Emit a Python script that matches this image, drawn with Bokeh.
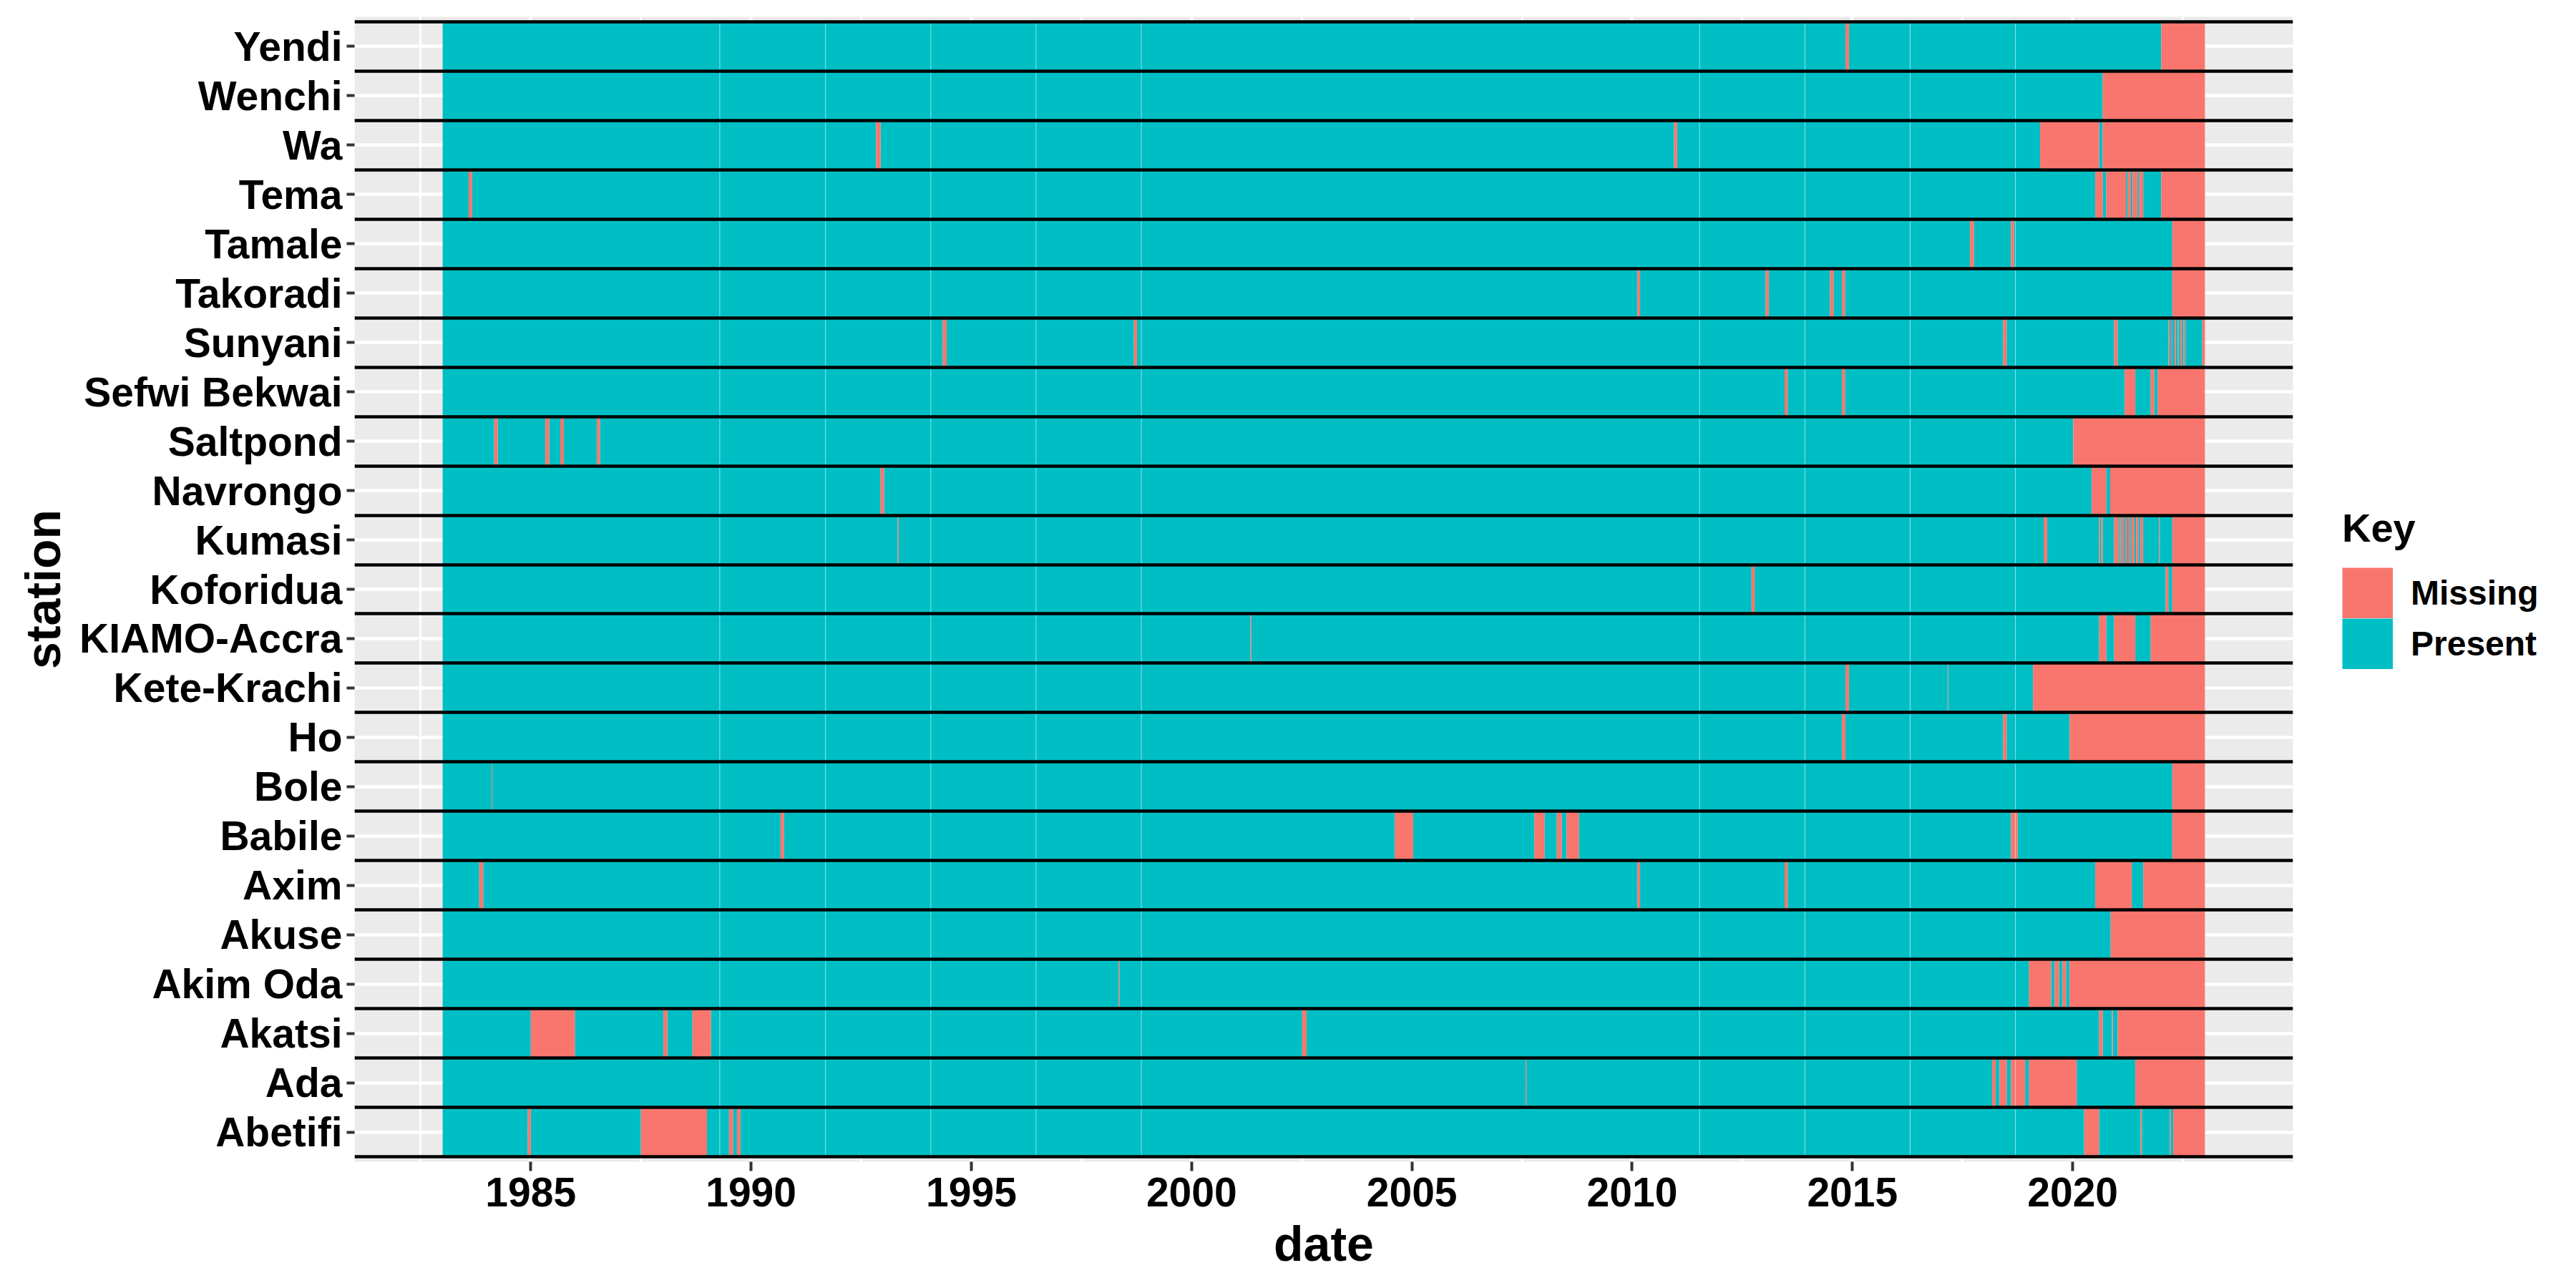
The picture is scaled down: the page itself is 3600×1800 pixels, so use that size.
from bokeh.plotting import figure
from bokeh.models import Range1d, FixedTicker, Legend, LegendItem, ColumnDataSource
from bokeh.embed import file_html
from bokeh.resources import INLINE

# ---------------- data ----------------
stations = ["Abetifi", "Ada", "Akatsi", "Akim Oda", "Akuse", "Axim", "Babile", "Bole",
            "Ho", "Kete-Krachi", "KIAMO-Accra", "Koforidua", "Kumasi", "Navrongo",
            "Saltpond", "Sefwi Bekwai", "Sunyani", "Takoradi", "Tamale", "Tema",
            "Wa", "Wenchi", "Yendi"]

record_start = 1983.0
record_end = 2023.0

# missing-data periods (decimal years) per station
abetifi_missing = [(1984.93, 1985.0), (1987.50, 1989.0), (1989.50, 1989.59), (1989.68, 1989.76),
                   (2020.26, 2020.60), (2021.54, 2021.57), (2022.20, 2022.22), (2022.28, 2023.0)]
ada_missing = [(2007.58, 2007.60), (2018.17, 2018.25), (2018.34, 2018.50), (2018.60, 2018.92),
               (2019.01, 2020.09), (2021.42, 2023.0)]
akatsi_missing = [(1985.0, 1986.0), (1988.01, 1988.10), (1988.67, 1989.09), (2002.51, 2002.61),
                  (2020.60, 2020.68), (2020.89, 2020.91), (2021.02, 2023.0)]
akim_oda_missing = [(1998.34, 1998.36), (2019.01, 2019.51), (2019.59, 2019.69),
                    (2019.77, 2019.85), (2019.93, 2023.0)]
akuse_missing = [(2020.86, 2023.0)]
axim_missing = [(1983.83, 1983.92), (2010.12, 2010.18), (2013.46, 2013.53),
                (2020.51, 2021.34), (2021.60, 2023.0)]
babile_missing = [(1990.67, 1990.75), (2004.61, 2005.03), (2007.78, 2008.01), (2008.29, 2008.40),
                  (2008.51, 2008.79), (2018.60, 2018.75), (2022.26, 2023.0)]
bole_missing = [(1984.11, 1984.125), (2022.26, 2023.0)]
ho_missing = [(2014.76, 2014.84), (2018.42, 2018.50), (2019.93, 2023.0)]
kete_krachi_missing = [(2014.84, 2014.92), (2017.16, 2017.17), (2019.10, 2023.0)]
kiamo_accra_missing = [(2001.33, 2001.35), (2020.60, 2020.76), (2020.94, 2021.42), (2021.77, 2023.0)]
koforidua_missing = [(2012.71, 2012.78), (2022.11, 2022.17), (2022.26, 2023.0)]
kumasi_missing = [(1993.33, 1993.35), (2019.34, 2019.42), (2020.60, 2020.62), (2020.65, 2020.68),
                  (2020.94, 2021.04), (2021.07, 2021.10), (2021.13, 2021.16), (2021.19, 2021.24),
                  (2021.27, 2021.31), (2021.34, 2021.40), (2021.44, 2021.49), (2021.54, 2021.60),
                  (2021.96, 2021.975), (2022.26, 2023.0)]
navrongo_missing = [(1992.94, 1993.02), (2020.43, 2020.76), (2020.85, 2023.0)]
saltpond_missing = [(1984.17, 1984.25), (1985.33, 1985.42), (1985.67, 1985.75),
                    (1986.50, 1986.57), (2020.01, 2023.0)]
sefwi_bekwai_missing = [(2013.46, 2013.53), (2014.76, 2014.83), (2021.18, 2021.42),
                        (2021.77, 2021.85), (2021.93, 2023.0)]
sunyani_missing = [(1994.35, 1994.44), (1998.69, 1998.76), (2018.42, 2018.50), (2020.94, 2021.02),
                   (2022.17, 2022.19), (2022.23, 2022.25), (2022.31, 2022.34), (2022.38, 2022.40),
                   (2022.44, 2022.47), (2022.51, 2022.53), (2022.555, 2022.57), (2022.94, 2023.0)]
takoradi_missing = [(2010.12, 2010.18), (2013.03, 2013.10), (2014.49, 2014.57),
                    (2014.76, 2014.83), (2022.26, 2023.0)]
tamale_missing = [(2017.67, 2017.76), (2018.60, 2018.67), (2022.26, 2023.0)]
tema_missing = [(1983.59, 1983.67), (2020.51, 2020.68), (2020.76, 2021.21), (2021.25, 2021.32),
                (2021.36, 2021.47), (2021.51, 2021.60), (2022.01, 2023.0)]
wa_missing = [(1992.84, 1992.94), (2010.95, 2011.02), (2019.26, 2020.60), (2020.68, 2023.0)]
wenchi_missing = [(2020.68, 2023.0)]
yendi_missing = [(2014.84, 2014.92), (2022.01, 2023.0)]

missing_by_station = [abetifi_missing, ada_missing, akatsi_missing, akim_oda_missing,
                      akuse_missing, axim_missing, babile_missing, bole_missing, ho_missing,
                      kete_krachi_missing, kiamo_accra_missing, koforidua_missing,
                      kumasi_missing, navrongo_missing, saltpond_missing,
                      sefwi_bekwai_missing, sunyani_missing, takoradi_missing,
                      tamale_missing, tema_missing, wa_missing, wenchi_missing, yendi_missing]

x_ticks = [1985, 1990, 1995, 2000, 2005, 2010, 2015, 2020]
x_minor_ticks = [1982.5, 1987.5, 1992.5, 1997.5, 2002.5, 2007.5, 2012.5, 2017.5, 2022.5]
x_limits = (1981, 2025)

# faint raster seams visible in the original rendering
seam_years = [1989.29, 1991.69, 1994.08, 1996.47, 1998.86, 2011.53, 2013.92, 2016.31, 2018.70]

key_labels = ["Missing", "Present"]
key_colors = ["#F8766D", "#00BFC4"]

# ---------------- build tiles ----------------
pres = dict(left=[], right=[], bottom=[], top=[])
miss = dict(left=[], right=[], bottom=[], top=[])
for i, gaps in enumerate(missing_by_station):
    yc = i + 1
    cur = record_start
    for (a, b) in sorted(gaps):
        if a > cur:
            pres["left"].append(cur); pres["right"].append(a)
            pres["bottom"].append(yc - 0.5); pres["top"].append(yc + 0.5)
        miss["left"].append(a); miss["right"].append(b)
        miss["bottom"].append(yc - 0.5); miss["top"].append(yc + 0.5)
        cur = max(cur, b)
    if cur < record_end:
        pres["left"].append(cur); pres["right"].append(record_end)
        pres["bottom"].append(yc - 0.5); pres["top"].append(yc + 0.5)

n = len(stations)
FONT = "Liberation Sans"
RIGHT_BORDER = 380
KEY = 71

p = figure(frame_width=2709, frame_height=1600,
           x_range=Range1d(*x_limits), y_range=Range1d(0.4, n + 0.6),
           output_backend="svg", toolbar_location=None,
           min_border_left=495, min_border_right=RIGHT_BORDER, min_border_top=23,
           min_border_bottom=161,
           background_fill_color="#EBEBEB", border_fill_color="white",
           outline_line_color=None)

r_pres = p.quad(source=ColumnDataSource(pres), left="left", right="right", bottom="bottom",
                top="top", fill_color=key_colors[1], line_color=None)
r_miss = p.quad(source=ColumnDataSource(miss), left="left", right="right", bottom="bottom",
                top="top", fill_color=key_colors[0], line_color=None)

p.segment(x0=seam_years, x1=seam_years, y0=[0.5] * len(seam_years), y1=[n + 0.5] * len(seam_years),
          line_color="white", line_alpha=0.55, line_width=1)

p.hspan(y=[k + 0.5 for k in range(n + 1)], line_color="black", line_width=4.5)

# axes
xa = p.xaxis[0]
xa.ticker = FixedTicker(ticks=x_ticks, minor_ticks=x_minor_ticks)
xa.major_label_overrides = {t: str(t) for t in x_ticks}
ya = p.yaxis[0]
ya.ticker = FixedTicker(ticks=list(range(1, n + 1)), minor_ticks=[])
ya.major_label_overrides = {i + 1: s for i, s in enumerate(stations)}

for ax in (xa, ya):
    ax.axis_line_color = None
    ax.major_tick_line_color = "#333333"
    ax.major_tick_line_width = 4
    ax.major_tick_in = 0
    ax.minor_tick_line_color = None
    ax.major_label_text_font = FONT
    ax.major_label_text_font_style = "bold"
    ax.major_label_text_font_size = "57px"
    ax.major_label_text_color = "black"
    ax.axis_label_text_font = FONT
    ax.axis_label_text_font_style = "bold"
    ax.axis_label_text_font_size = "68px"
    ax.axis_label_text_color = "black"

xa.axis_label = "date"
xa.major_tick_out = 13
xa.major_label_standoff = 9
xa.axis_label_standoff = 11
ya.axis_label = "station"
ya.major_tick_out = 11
ya.major_label_standoff = 6
ya.axis_label_standoff = 10

p.xgrid.grid_line_color = "white"
p.xgrid.grid_line_width = 4.3
p.xgrid.minor_grid_line_color = "white"
p.xgrid.minor_grid_line_width = 3
p.ygrid.grid_line_color = "white"
p.ygrid.grid_line_width = 4.3

# ---------------- legend (right side panel) ----------------
# key proxies: hidden thick butt-capped lines, so each legend key fills its whole square
k_miss = p.line(x=[record_start, record_end], y=[1, 1], line_color=key_colors[0],
                line_width=KEY, line_cap="butt", visible=False)
k_pres = p.line(x=[record_start, record_end], y=[1, 1], line_color=key_colors[1],
                line_width=KEY, line_cap="butt", visible=False)
legend = Legend(items=[LegendItem(label=key_labels[0], renderers=[k_miss]),
                       LegendItem(label=key_labels[1], renderers=[k_pres])],
                location=(69, 688), orientation="vertical",
                title="Key", title_text_font=FONT, title_text_font_style="bold",
                title_text_font_size="56px", title_text_color="black", title_standoff=23,
                label_text_font=FONT, label_text_font_style="bold", label_text_font_size="48px",
                label_text_color="black", label_standoff=25, label_height=KEY,
                label_width=RIGHT_BORDER - KEY - 25,
                glyph_width=KEY, glyph_height=KEY, spacing=0, padding=0, margin=0,
                inactive_fill_alpha=0.0,
                border_line_color=None, background_fill_alpha=0)
p.add_layout(legend, "right")

open("out.html", "w").write(file_html(p, INLINE))
